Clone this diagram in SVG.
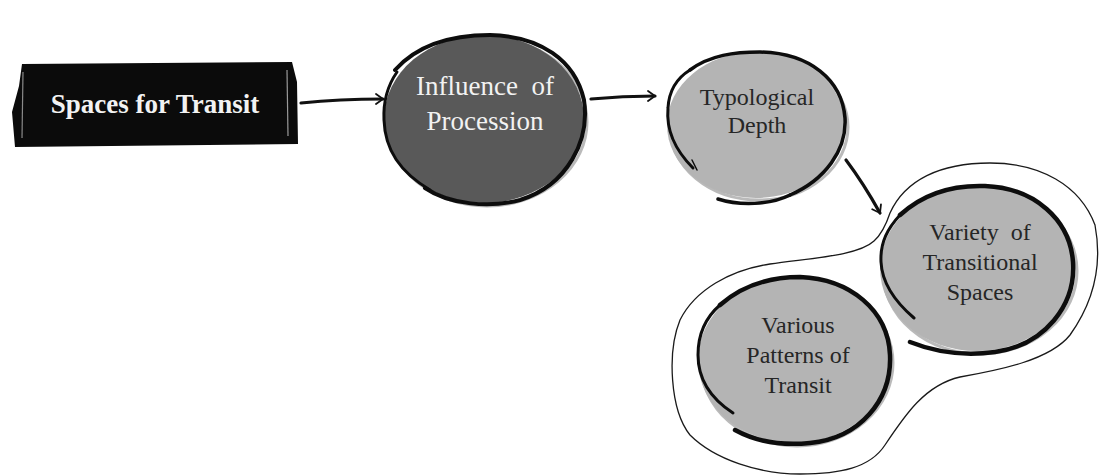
<svg xmlns="http://www.w3.org/2000/svg" width="1099" height="476" viewBox="0 0 1099 476">
  <defs>
    <marker id="chev" viewBox="0 0 12 12" refX="10" refY="6" markerWidth="12" markerHeight="12" markerUnits="userSpaceOnUse" orient="auto">
      <path d="M3,1 L10,6 L3,11" fill="none" stroke="#111" stroke-width="1.8" stroke-linecap="round" stroke-linejoin="round"/>
    </marker>
    <style>
      .ink { fill: none; stroke: #0d0d0d; stroke-linecap: round; stroke-linejoin: round; }
      .halo { fill: none; stroke: #8c8c8c; stroke-width: 3; opacity: 0.6; }
      .dark { fill: #595959; }
      .light { fill: #b4b4b4; }
      text { font-family: "Liberation Serif", "Times New Roman", Times, "Noto Serif", "DejaVu Serif", FreeSerif, Tinos, serif; text-anchor: middle; }
      .lbl-w { fill: #f2f2f2; }
      .lbl-d { fill: #262626; }
      .conn { fill: none; stroke: #111; stroke-width: 3.2; stroke-linecap: round; }
    </style>
  </defs>

  <rect width="1099" height="476" fill="#ffffff"/>

  <!-- enclosure around the last two circles -->
  <g id="enclosure">
    <path d="M890,213 C905,180 940,163 990,163 C1040,163 1080,185 1095,225 C1102,262 1095,300 1070,335 C1050,360 1000,370 960,377 C925,385 905,415 885,445 C870,468 840,474 800,474 C760,474 715,460 690,435 C670,410 667,352 680,320 C695,290 730,270 770,264 C810,258 858,256 874,241 C883,233 887,222 890,213 Z" fill="#ffffff" stroke="#1a1a1a" stroke-width="1.3"/>
  </g>

  <!-- start block -->
  <g id="node-spaces-for-transit">
    <path d="M22,64 L292,62 L297,82 L298,144 L15,147 L12,112 L19,86 Z" fill="#0b0b0b"/>
    <path d="M23,72 L22,138" stroke="#8a8a8a" stroke-width="1.2" fill="none"/>
    <path d="M287,70 L288,136" stroke="#9a9a9a" stroke-width="1.2" fill="none"/>
    <text x="155" y="113" font-size="27" font-weight="bold" fill="#f2f2f2">Spaces for Transit</text>
  </g>

  <!-- connectors -->
  <g id="connectors">
    <path class="conn" d="M301,103 C330,100 355,99 383,99" marker-end="url(#chev)"/>
    <path class="conn" d="M591,99 C612,97 635,96 655,96" marker-end="url(#chev)"/>
    <path class="conn" d="M846,160 C858,176 870,195 880,213" marker-end="url(#chev)"/>
  </g>

  <!-- Influence of Procession -->
  <g id="node-influence-of-procession">
    <ellipse class="halo" cx="487" cy="122" rx="100" ry="84"/>
    <ellipse class="dark" cx="484" cy="119" rx="100" ry="84"/>
    <path class="ink" stroke-width="4" d="M395,70 C420,42 455,35 490,35 C540,36 575,60 584,100 C590,140 568,185 520,200 C490,208 450,205 425,188"/>
    <path class="ink" stroke-width="3" d="M430,190 C400,172 385,150 384,120 C383,100 388,85 397,72"/>
    <text class="lbl-w" x="485" y="95" font-size="27" xml:space="preserve">Influence  of</text>
    <text class="lbl-w" x="485" y="130" font-size="27">Procession</text>
  </g>

  <!-- Typological Depth -->
  <g id="node-typological-depth">
    <ellipse class="halo" cx="759" cy="127" rx="89" ry="73"/>
    <ellipse class="light" cx="756" cy="125" rx="89" ry="73"/>
    <path class="ink" stroke-width="3.5" d="M690,70 C710,55 735,52 760,52 C810,53 842,80 845,118 C847,150 825,180 790,195"/>
    <path class="ink" stroke-width="3" d="M693,168 C675,150 666,130 668,108 C669,90 677,78 690,70"/>
    <path class="ink" stroke-width="3.5" d="M718,199 C740,206 770,205 790,195"/>
    <path class="ink" stroke-width="1.5" d="M692,160 L697,170"/>
    <text class="lbl-d" x="757" y="105" font-size="24">Typological</text>
    <text class="lbl-d" x="757" y="133" font-size="24">Depth</text>
  </g>

  <!-- Variety of Transitional Spaces -->
  <g id="node-variety-of-transitional-spaces">
    <ellipse class="halo" cx="980" cy="271" rx="97" ry="83"/>
    <ellipse class="light" cx="977" cy="268" rx="97" ry="83"/>
    <path class="ink" stroke-width="4.5" d="M900,215 C925,192 955,185 985,186 C1035,188 1070,220 1073,262 C1076,305 1045,345 995,352 C965,356 935,352 910,342"/>
    <path class="ink" stroke-width="3" d="M914,318 C893,300 882,282 881,262 C880,242 888,228 900,215"/>
    <text class="lbl-d" x="980" y="240" font-size="24" xml:space="preserve">Variety  of</text>
    <text class="lbl-d" x="980" y="270" font-size="24">Transitional</text>
    <text class="lbl-d" x="980" y="300" font-size="24">Spaces</text>
  </g>

  <!-- Various Patterns of Transit -->
  <g id="node-various-patterns-of-transit">
    <ellipse class="halo" cx="797" cy="363" rx="96" ry="83"/>
    <ellipse class="light" cx="794" cy="360" rx="96" ry="83"/>
    <path class="ink" stroke-width="4.5" d="M720,305 C745,283 775,277 800,277 C850,279 888,310 890,355 C892,400 860,438 810,443 C780,446 755,441 735,430"/>
    <path class="ink" stroke-width="3" d="M733,413 C710,398 698,378 698,355 C698,335 705,318 720,305"/>
    <text class="lbl-d" x="798" y="333" font-size="24">Various</text>
    <text class="lbl-d" x="798" y="363" font-size="24">Patterns of</text>
    <text class="lbl-d" x="798" y="393" font-size="24">Transit</text>
  </g>
</svg>
